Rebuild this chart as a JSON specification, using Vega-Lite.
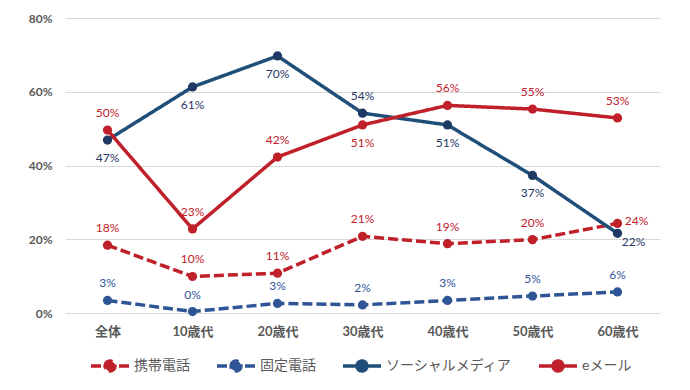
{
  "$schema": "https://vega.github.io/schema/vega-lite/v6.json",
  "width": 595,
  "height": 295,
  "autosize": {"type": "none"},
  "padding": {"left": 65, "top": 18, "right": 30, "bottom": 77},
  "background": "white",
  "config": {
    "font": "Lato, Noto Sans CJK JP",
    "view": {"stroke": null}
  },
  "data": {
    "values": [
      {"age": "全体", "series": "携帯電話", "value": 0.184},
      {"age": "10歳代", "series": "携帯電話", "value": 0.099},
      {"age": "20歳代", "series": "携帯電話", "value": 0.108},
      {"age": "30歳代", "series": "携帯電話", "value": 0.208},
      {"age": "40歳代", "series": "携帯電話", "value": 0.188},
      {"age": "50歳代", "series": "携帯電話", "value": 0.199},
      {"age": "60歳代", "series": "携帯電話", "value": 0.243},
      {"age": "全体", "series": "固定電話", "value": 0.034},
      {"age": "10歳代", "series": "固定電話", "value": 0.004},
      {"age": "20歳代", "series": "固定電話", "value": 0.026},
      {"age": "30歳代", "series": "固定電話", "value": 0.022},
      {"age": "40歳代", "series": "固定電話", "value": 0.034},
      {"age": "50歳代", "series": "固定電話", "value": 0.046},
      {"age": "60歳代", "series": "固定電話", "value": 0.057},
      {"age": "全体", "series": "ソーシャルメディア", "value": 0.469},
      {"age": "10歳代", "series": "ソーシャルメディア", "value": 0.613},
      {"age": "20歳代", "series": "ソーシャルメディア", "value": 0.697},
      {"age": "30歳代", "series": "ソーシャルメディア", "value": 0.542},
      {"age": "40歳代", "series": "ソーシャルメディア", "value": 0.51},
      {"age": "50歳代", "series": "ソーシャルメディア", "value": 0.373},
      {"age": "60歳代", "series": "ソーシャルメディア", "value": 0.216},
      {"age": "全体", "series": "eメール", "value": 0.496},
      {"age": "10歳代", "series": "eメール", "value": 0.228},
      {"age": "20歳代", "series": "eメール", "value": 0.423},
      {"age": "30歳代", "series": "eメール", "value": 0.51},
      {"age": "40歳代", "series": "eメール", "value": 0.563},
      {"age": "50歳代", "series": "eメール", "value": 0.553},
      {"age": "60歳代", "series": "eメール", "value": 0.529}
    ]
  },
  "encoding": {
    "x": {
      "field": "age",
      "type": "nominal",
      "sort": ["全体", "10歳代", "20歳代", "30歳代", "40歳代", "50歳代", "60歳代"],
      "scale": {"type": "point", "padding": 0.5},
      "axis": {
        "title": null,
        "labelAngle": 0,
        "domain": false,
        "ticks": false,
        "grid": false,
        "labelPadding": 12,
        "labelFontSize": 13,
        "labelFontWeight": "bold",
        "labelColor": "#595959"
      }
    },
    "y": {
      "field": "value",
      "type": "quantitative",
      "scale": {"domain": [0, 0.8]},
      "axis": {
        "title": null,
        "values": [0, 0.2, 0.4, 0.6, 0.8],
        "format": ".0%",
        "domain": false,
        "ticks": false,
        "gridColor": "#D9D9D9",
        "gridWidth": 1,
        "labelPadding": 13,
        "labelFontSize": 12,
        "labelFontWeight": "bold",
        "labelColor": "#595959"
      }
    }
  },
  "layer": [
    {
      "mark": {"type": "line", "strokeWidth": 3.5},
      "encoding": {
        "color": {
          "field": "series",
          "type": "nominal",
          "scale": {
            "domain": ["携帯電話", "固定電話", "ソーシャルメディア", "eメール"],
            "range": ["#C0202A", "#2F5597", "#1F4E79", "#C0202A"]
          },
          "legend": {
            "title": null,
            "orient": "none",
            "legendX": 33,
            "legendY": 336,
            "direction": "horizontal",
            "symbolType": "M-1.9,0H1.9M-0.5,0A0.5,0.5,0,1,1,0.5,0A0.5,0.5,0,1,1,-0.5,0Z",
            "symbolSize": 400,
            "symbolStrokeWidth": 3.5,
            "labelOffset": 12,
            "columnPadding": 20,
            "labelFontSize": 14,
            "labelColor": "#595959",
            "encode": {
              "symbols": {"update": {"fill": {"scale": "color", "field": "value"}, "fillOpacity": {"value": 1}}}
            }
          }
        },
        "strokeDash": {
          "field": "series",
          "type": "nominal",
          "scale": {
            "domain": ["携帯電話", "固定電話", "ソーシャルメディア", "eメール"],
            "range": [[10, 4], [10, 4], [1, 0], [1, 0]]
          },
          "legend": {
            "title": null,
            "orient": "none",
            "legendX": 33,
            "legendY": 336,
            "direction": "horizontal",
            "symbolType": "M-1.9,0H1.9M-0.5,0A0.5,0.5,0,1,1,0.5,0A0.5,0.5,0,1,1,-0.5,0Z",
            "symbolSize": 400,
            "symbolStrokeWidth": 3.5,
            "labelOffset": 12,
            "columnPadding": 20,
            "labelFontSize": 14,
            "labelColor": "#595959"
          }
        }
      }
    },
    {
      "mark": {"type": "point", "filled": true, "size": 85, "opacity": 1},
      "encoding": {
        "color": {
          "condition": {"test": "datum.series === 'ソーシャルメディア'", "value": "#1F3864"},
          "field": "series",
          "type": "nominal",
          "legend": null
        }
      }
    },
    {
      "transform": [{"filter": "datum.series === 'ソーシャルメディア' && datum.age !== '30歳代' && datum.age !== '60歳代'"}],
      "mark": {"type": "text", "dy": 18, "fontSize": 12, "color": "#1F3864"},
      "encoding": {"text": {"field": "value", "type": "quantitative", "format": ".0%"}}
    },
    {
      "transform": [{"filter": "datum.series === 'ソーシャルメディア' && datum.age === '30歳代'"}],
      "mark": {"type": "text", "dy": -17, "fontSize": 12, "color": "#1F3864"},
      "encoding": {"text": {"field": "value", "type": "quantitative", "format": ".0%"}}
    },
    {
      "transform": [{"filter": "datum.series === 'ソーシャルメディア' && datum.age === '60歳代'"}],
      "mark": {"type": "text", "dx": 16, "dy": 9, "fontSize": 12, "color": "#1F3864"},
      "encoding": {"text": {"field": "value", "type": "quantitative", "format": ".0%"}}
    },
    {
      "transform": [{"filter": "datum.series === 'eメール' && datum.age !== '30歳代'"}],
      "mark": {"type": "text", "dy": -17, "fontSize": 12, "color": "#C0202A"},
      "encoding": {"text": {"field": "value", "type": "quantitative", "format": ".0%"}}
    },
    {
      "transform": [{"filter": "datum.series === 'eメール' && datum.age === '30歳代'"}],
      "mark": {"type": "text", "dy": 18, "fontSize": 12, "color": "#C0202A"},
      "encoding": {"text": {"field": "value", "type": "quantitative", "format": ".0%"}}
    },
    {
      "transform": [{"filter": "datum.series === '携帯電話' && datum.age !== '60歳代'"}],
      "mark": {"type": "text", "dy": -17, "fontSize": 12, "color": "#C0202A"},
      "encoding": {"text": {"field": "value", "type": "quantitative", "format": ".0%"}}
    },
    {
      "transform": [{"filter": "datum.series === '携帯電話' && datum.age === '60歳代'"}],
      "mark": {"type": "text", "dx": 19, "dy": -2, "fontSize": 12, "color": "#C0202A"},
      "encoding": {"text": {"field": "value", "type": "quantitative", "format": ".0%"}}
    },
    {
      "transform": [{"filter": "datum.series === '固定電話'"}],
      "mark": {"type": "text", "dy": -17, "fontSize": 12, "color": "#2F5597"},
      "encoding": {"text": {"field": "value", "type": "quantitative", "format": ".0%"}}
    }
  ]
}
